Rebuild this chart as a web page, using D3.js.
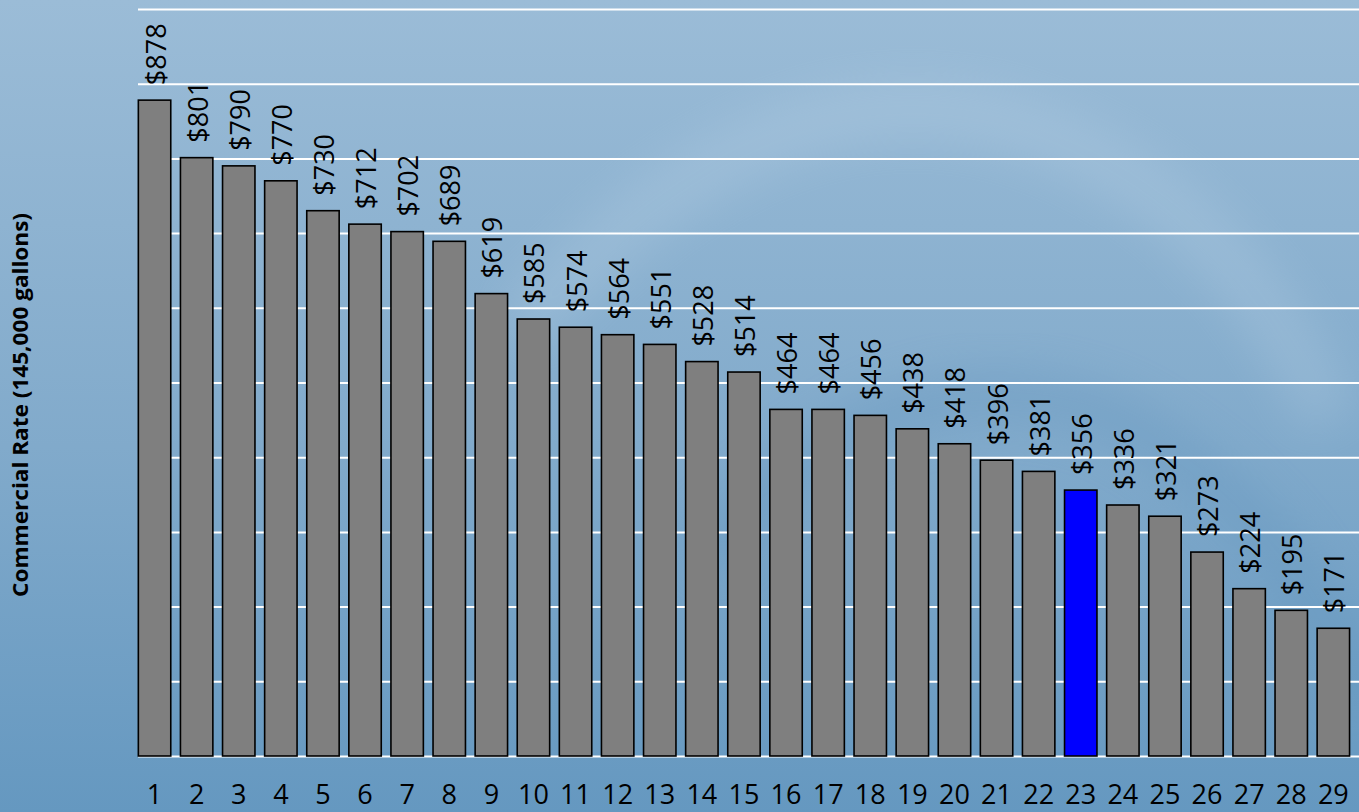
<!DOCTYPE html>
<html>
<head>
<meta charset="utf-8">
<script src="https://cdn.jsdelivr.net/npm/d3@7"></script>
<style>
html, body { margin: 0; padding: 0; overflow: hidden; }
svg { display: block; }
</style>
</head>
<body>
<svg id="chart" width="1359" height="812"></svg>
<script>
// ---- data ----
const categories = ["1","2","3","4","5","6","7","8","9","10","11","12","13","14","15","16","17","18","19","20","21","22","23","24","25","26","27","28","29"];
const rates = [878, 801, 790, 770, 730, 712, 702, 689, 619, 585, 574, 564, 551, 528, 514, 464, 464, 456, 438, 418, 396, 381, 356, 336, 321, 273, 224, 195, 171];
const highlighted = ["23"];
const gridTicks = [0, 100, 200, 300, 400, 500, 600, 700, 800, 900, 1000];
const yTitle = "Commercial Rate (145,000 gallons)";

const W = 1359, H = 812;
const svg = d3.select("#chart");
const defs = svg.append("defs");

// background gradient
const bg = defs.append("linearGradient").attr("id", "bg").attr("x1", 0).attr("y1", 0).attr("x2", 0).attr("y2", 1);
bg.append("stop").attr("offset", "0%").attr("stop-color", "#9bbcd7");
bg.append("stop").attr("offset", "55%").attr("stop-color", "#81aacb");
bg.append("stop").attr("offset", "100%").attr("stop-color", "#6598c0");
svg.append("rect").attr("width", W).attr("height", H).attr("fill", "url(#bg)");

// faint swoosh
const blur = defs.append("filter").attr("id", "blur").attr("x", "-20%").attr("y", "-20%").attr("width", "140%").attr("height", "140%");
blur.append("feGaussianBlur").attr("stdDeviation", 22);
svg.append("path")
  .attr("d", "M 520 330 Q 760 60 1000 120 Q 1220 180 1330 420")
  .attr("fill", "none").attr("stroke", "#c8dcec").attr("stroke-width", 60)
  .attr("opacity", 0.2).attr("filter", "url(#blur)");
svg.append("path")
  .attr("d", "M 700 560 Q 900 330 1120 420 Q 1300 520 1359 700")
  .attr("fill", "none").attr("stroke", "#5f92bc").attr("stroke-width", 50)
  .attr("opacity", 0.3).attr("filter", "url(#blur)");

// scales
const x = d3.scaleBand().domain(categories).range([133.5, 1354.4]).paddingInner(0.23).paddingOuter(0.115);
const y = d3.scaleLinear().domain([0, 1000]).range([756, 9]);

// gridlines via axis
const grid = svg.append("g")
  .attr("transform", "translate(138,0)")
  .call(d3.axisLeft(y).tickValues(gridTicks).tickSize(-(W - 138)).tickFormat(""));
grid.select(".domain").remove();
grid.selectAll(".tick line").attr("stroke", "#ffffff").attr("stroke-width", 2);

// bars
svg.append("g").selectAll("rect").data(categories).join("rect")
  .attr("x", d => x(d))
  .attr("y", (d, i) => y(rates[i]))
  .attr("width", x.bandwidth())
  .attr("height", (d, i) => y(0) - y(rates[i]))
  .attr("fill", d => highlighted.includes(d) ? "#0000ff" : "#7f7f7f")
  .attr("stroke", "#000000")
  .attr("stroke-width", 1.6);

// value labels
svg.append("g").selectAll("text").data(categories).join("text")
  .attr("transform", (d, i) => `translate(${x(d) + x.bandwidth() / 2 + 11},${y(rates[i]) - 15}) rotate(-90)`)
  .attr("text-anchor", "start")
  .attr("font-family", "'Open Sans', sans-serif")
  .attr("font-size", 27)
  .attr("fill", "#000")
  .text((d, i) => "$" + rates[i]);

// x axis labels
const xAxis = svg.append("g")
  .attr("transform", "translate(0,756)")
  .call(d3.axisBottom(x).tickSize(0).tickPadding(0));
xAxis.select(".domain").remove();
xAxis.selectAll("text")
  .attr("y", 48)
  .attr("dy", 0)
  .attr("font-family", "'Open Sans', sans-serif")
  .attr("font-size", 27)
  .attr("fill", "#000");

// y title
svg.append("text")
  .attr("transform", "translate(27.5,405) rotate(-90)")
  .attr("text-anchor", "middle")
  .attr("font-family", "'Open Sans', sans-serif")
  .attr("font-weight", "bold")
  .attr("font-size", 20.5)
  .attr("textLength", 384)
  .attr("lengthAdjust", "spacingAndGlyphs")
  .attr("fill", "#000")
  .text(yTitle);
</script>
</body>
</html>
